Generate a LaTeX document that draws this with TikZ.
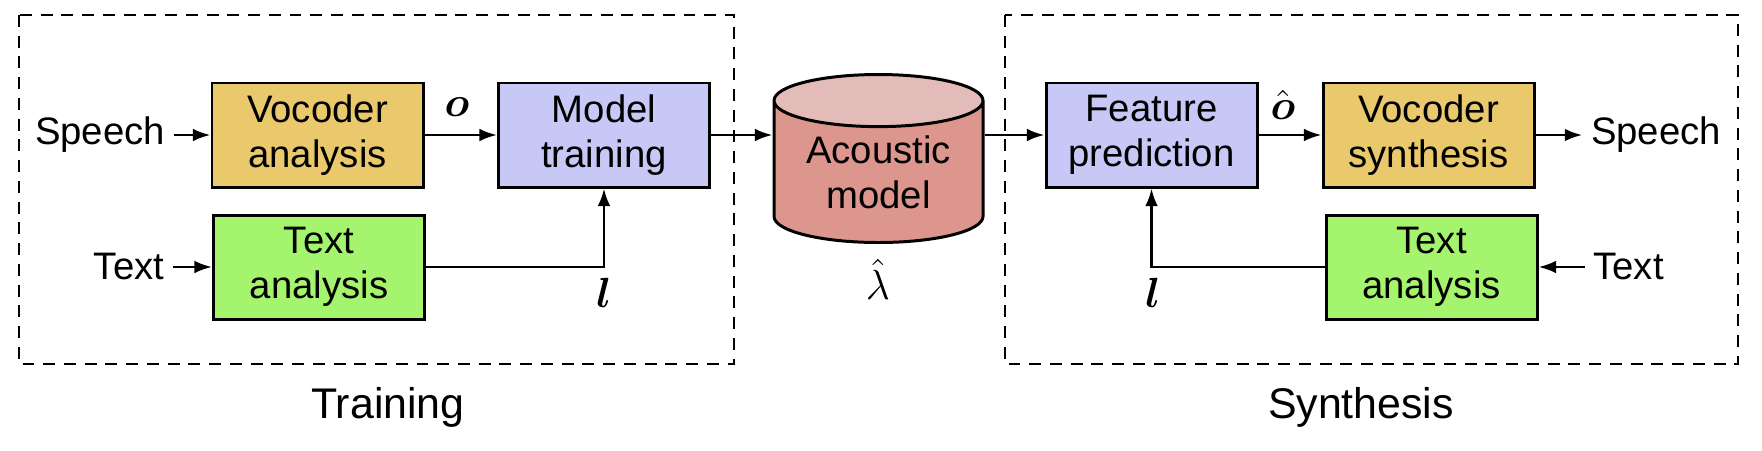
\documentclass[tikz,border=0pt]{standalone}
\usepackage{fontspec}
\setmainfont{Liberation Sans}
\usepackage{amsmath}
\usetikzlibrary{arrows.meta,positioning,shapes.geometric}
\usepackage{xcolor}
\definecolor{cgold}{HTML}{E9C96B}
\definecolor{clav}{HTML}{C8C8F7}
\definecolor{cgreen}{HTML}{A5F46D}
\definecolor{cbody}{HTML}{DC968E}
\definecolor{ctop}{HTML}{E3BBB9}

\tikzset{
  blk/.style={draw, line width=0.85pt, minimum width=2.11cm, minimum height=1.04cm,
              inner sep=0pt, align=center, font=\fontsize{10.9}{12.8}\selectfont},
  lbl/.style={font=\fontsize{10.9}{12.8}\selectfont, inner sep=0.8mm},
  sym/.style={font=\fontsize{12}{14}\selectfont, inner sep=0pt},
  frame/.style={draw, line width=0.75pt, dash pattern=on 3.4pt off 2.5pt},
  arr/.style={line width=0.75pt, -{Latex[length=5pt,width=3.6pt]}}
}

\begin{document}
\begin{tikzpicture}
    \useasboundingbox (0,0) rectangle (17.62,-4.50);

    % training part
    \draw[frame] (0.19,-0.15) rectangle (7.34,-3.64);
    \node[blk, fill=cgold] (va) at (3.175,-1.35) {Vocoder\\analysis};
    \node[blk, fill=clav] (mt) at (6.04,-1.35) {Model\\training};
    \node[blk, fill=cgreen] (tal) at (3.19,-2.67) {Text\\analysis};
    \node[lbl] (spl) at (1.00,-1.35) {Speech};
    \node[lbl] (txl) at (1.29,-2.67) {Text};
    \node[sym] (o) at (4.57,-1.07) {$\boldsymbol{o}$};
    \node[sym] (ll) at (6.04,-2.93) {$\boldsymbol{l}$};
    \node[font=\fontsize{12.2}{14}\selectfont] (trn) at (3.88,-4.07) {Training};

    % acoustic model
    \node[cylinder, shape border rotate=90, draw, line width=0.85pt, aspect=0.36,
          minimum width=2.09cm, minimum height=1.68cm, inner sep=0pt,
          cylinder uses custom fill, cylinder body fill=cbody, cylinder end fill=ctop,
          align=center, font=\fontsize{10.9}{12.8}\selectfont,
          anchor=shape center] (am) at (8.785,-1.585) {Acoustic\\model};
    \node[sym, font=\fontsize{13}{15}\selectfont] (lam) at (8.78,-2.79) {$\hat{\lambda}$};

    % synthesis part
    \draw[frame] (10.05,-0.15) rectangle (17.38,-3.64);
    \node[blk, fill=clav] (fp) at (11.515,-1.35) {Feature\\prediction};
    \node[blk, fill=cgold] (vs) at (14.285,-1.35) {Vocoder\\synthesis};
    \node[blk, fill=cgreen] (tar) at (14.315,-2.67) {Text\\analysis};
    \node[lbl] (spr) at (16.56,-1.35) {Speech};
    \node[lbl] (txr) at (16.285,-2.67) {Text};
    \node[sym] (oh) at (12.83,-1.05) {$\hat{\boldsymbol{o}}$};
    \node[sym] (lr) at (11.53,-2.93) {$\boldsymbol{l}$};
    \node[font=\fontsize{12.2}{14}\selectfont] (syn) at (13.61,-4.07) {Synthesis};

    % connections
    \draw[arr] (spl) -- (va);
    \draw[arr] (txl) -- (tal);
    \draw[arr] (va) -- (mt);
    \draw[arr] (tal.east) -| (mt.south);
    \draw[arr] (mt.east) -- (mt.east -| am.west);
    \draw[arr] (fp.west -| am.east) -- (fp.west);
    \draw[arr] (fp) -- (vs);
    \draw[arr] (vs) -- (spr);
    \draw[arr] (txr) -- (tar);
    \draw[arr] (tar.west) -| (fp.south);
\end{tikzpicture}
\end{document}
